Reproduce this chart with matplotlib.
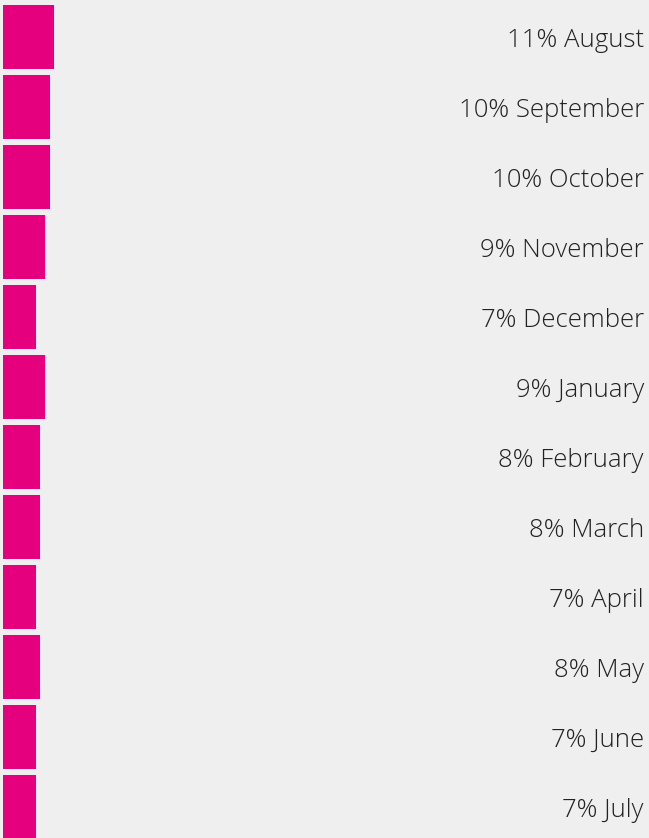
import matplotlib
matplotlib.use("Agg")
import matplotlib.pyplot as plt
from matplotlib.transforms import blended_transform_factory

months = ["August", "September", "October", "November", "December", "January",
          "February", "March", "April", "May", "June", "July"]
shares = [11, 10, 10, 9, 7, 9, 8, 8, 7, 8, 7, 7]

bar_color = "#E5007E"
bg = "#EFEFEF"

fig = plt.figure(figsize=(6.49, 8.38), dpi=100, facecolor=bg)
ax = fig.add_axes([0, 0, 1, 1], facecolor=bg)

px_per_pct = 4.68
ax.barh(range(len(months)), shares, height=64 / 70, left=0, color=bar_color)

ax.set_xlim(-3 / px_per_pct, 646 / px_per_pct)
ax.set_ylim((838 - 37) / 70, -37 / 70)
ax.axis("off")

# labels sit on a baseline a little below each bar's centre
trans = blended_transform_factory(ax.transAxes, ax.transData)
for i, (m, s) in enumerate(zip(months, shares)):
    ax.text(644 / 649, i + 10 / 70, f"{s}% {m}", transform=trans, ha="right",
            va="baseline", fontsize=18.5, color="#222222", family="Open Sans",
            fontweight="light")

fig.savefig("out.png", dpi=100, facecolor=bg)
